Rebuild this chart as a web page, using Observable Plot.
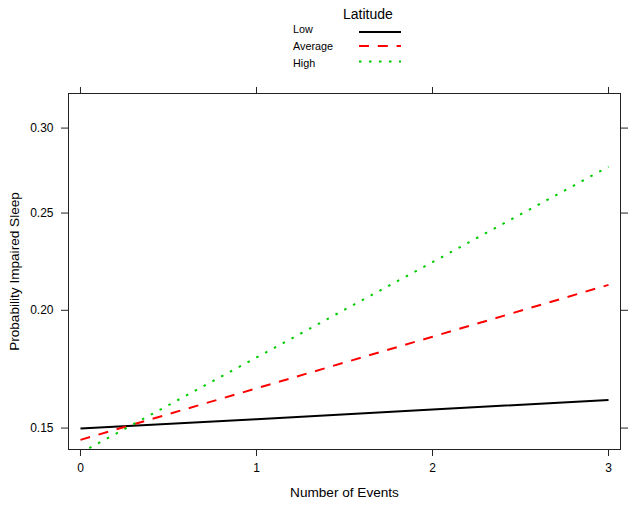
<!DOCTYPE html>
<html>
<head>
<meta charset="utf-8">
<script src="https://cdn.jsdelivr.net/npm/d3@7"></script>
<script src="https://cdn.jsdelivr.net/npm/@observablehq/plot@0.6"></script>
<style>
  body { margin: 0; background: white; }
  #wrap { width: 640px; }
  #legend { display: block; }
</style>
</head>
<body>
<div id="wrap"></div>
<script>
// Data
const events = [0, 1, 2, 3];
const lowP = [0.1498, 0.1534, 0.1571, 0.1609];
const averageP = [0.1456, 0.1656, 0.1878, 0.2123];
const highP = [0.1409, 0.1786, 0.2238, 0.2766];
const seriesNames = ["Low", "Average", "High"];
const yTickLabels = [0.15, 0.20, 0.25, 0.30];
const xTickLabels = [0, 1, 2, 3];
const legendTitle = "Latitude";

const logit = p => Math.log(p / (1 - p));
const invlogit = v => 1 / (1 + Math.exp(-v));

const colors = {Low: "#000000", Average: "#FF0000", High: "#00CC00"};
const dashes = {Low: null, Average: "10,8.8", High: "2.5,7.5"};

const seriesValues = {Low: lowP, Average: averageP, High: highP};
const rows = [];
for (const s of seriesNames) {
  seriesValues[s].forEach((p, i) => rows.push({events: events[i], p, lat: s}));
}

const font = "'Liberation Sans', Arial, sans-serif";
const wrap = document.getElementById("wrap");

// Legend (above the chart)
const leg = d3.create("svg").attr("id", "legend").attr("width", 640).attr("height", 80)
  .style("font-family", font);
leg.append("text").attr("x", 343).attr("y", 19).attr("font-size", 14).text(legendTitle);
const legY = [29, 46, 63];
const legLineY = [32, 46, 61.5];
seriesNames.forEach((s, i) => {
  leg.append("text").attr("x", 293).attr("y", legY[i]).attr("dy", "0.35em")
    .attr("font-size", 10.8).text(s);
  leg.append("line").attr("x1", 359).attr("x2", 401).attr("y1", legLineY[i]).attr("y2", legLineY[i])
    .attr("stroke", colors[s]).attr("stroke-width", 2)
    .attr("stroke-dasharray", dashes[s]);
});
wrap.appendChild(leg.node());

const yTickPos = yTickLabels.map(logit);
const fmt = d3.format(".2f");

const chart = Plot.plot({
  width: 640,
  height: 425,
  marginLeft: 68,
  marginRight: 20,
  marginTop: 13,
  marginBottom: 56,
  x: {domain: [-0.068, 3.068]},
  y: {domain: [-1.798, -0.745]},
  style: {fontFamily: font, fontSize: "12px", color: "#000", background: "white"},
  marks: [
    ...seriesNames.map(s => Plot.line(rows.filter(d => d.lat === s), {
      x: "events", y: d => logit(d.p), stroke: colors[s], strokeWidth: 2,
      strokeDasharray: dashes[s], strokeLinecap: "butt", clip: true
    })),
    Plot.frame({stroke: "#222", strokeWidth: 1}),
    Plot.axisY({anchor: "left", ticks: yTickPos, tickFormat: v => fmt(invlogit(v)),
      tickSize: 7, tickPadding: 8, label: null, stroke: "#222", fontSize: 12}),
    Plot.axisY({anchor: "right", ticks: yTickPos, tickFormat: () => "",
      tickSize: 7, label: null, stroke: "#222"}),
    Plot.axisX({anchor: "bottom", ticks: xTickLabels, tickFormat: d => String(d),
      tickSize: 7, tickPadding: 7, label: null, stroke: "#222", fontSize: 12}),
    Plot.axisX({anchor: "top", ticks: xTickLabels, tickFormat: () => "",
      tickSize: 7, label: null, stroke: "#222"}),
    Plot.text(["Probability Impaired Sleep"], {frameAnchor: "left", dx: -54, rotate: -90,
      textAnchor: "middle", lineAnchor: "middle", fontSize: 13.6, fill: "#000"}),
    Plot.text(["Number of Events"], {frameAnchor: "bottom", dy: 43,
      textAnchor: "middle", lineAnchor: "middle", fontSize: 13.6, fill: "#000"})
  ]
});
wrap.appendChild(chart);
</script>
</body>
</html>
